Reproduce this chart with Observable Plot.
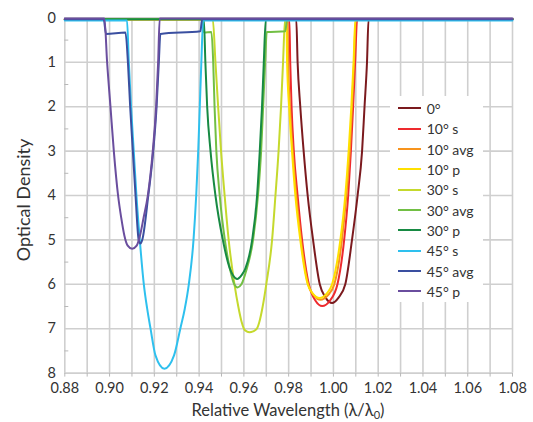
<!DOCTYPE html>
<html><head><meta charset="utf-8">
<script src="https://cdn.jsdelivr.net/npm/d3@7"></script>
<script src="https://cdn.jsdelivr.net/npm/@observablehq/plot@0.6"></script>
<style>
html,body{margin:0;padding:0;background:#fff;}
#wrap{position:relative;width:533px;height:422px;overflow:hidden;font-family:Lato,sans-serif;color:#333;}
#wrap svg{position:absolute;left:0;top:0;}
#legend{position:absolute;left:390px;top:96px;width:93px;height:206px;background:#fff;}
.row{position:absolute;left:0;height:20px;display:flex;align-items:center;font-size:14px;white-space:nowrap;}
.sw{width:22.4px;height:2px;margin-left:8.3px;margin-right:6px;}
#xlabel{position:absolute;left:0;width:576px;top:402px;text-align:center;font-size:16.5px;line-height:16.5px;}
#xlabel sub{font-size:11px;vertical-align:-3px;line-height:0;}
#ylabel{position:absolute;left:22.5px;top:200px;width:200px;margin-left:-100px;height:20px;margin-top:-10px;line-height:20px;text-align:center;font-size:18px;transform:rotate(-90deg);white-space:nowrap;}
</style></head><body><div id="wrap"></div>
<script>
// series names and colours (legend order = draw order)
const seriesNames = ["0°","10° s","10° avg","10° p","30° s","30° avg","30° p","45° s","45° avg","45° p"];
const seriesColors = ["#7b1a1e","#ee2a2e","#f7941d","#ffe000","#c5d92d","#72bf44","#178a43","#2ec0ee","#3a4fa0","#6a4e9e"];

// [relative wavelength, optical density]
const od0 = [[0.88,0.03],[0.9834,0.03],[0.9840,1],[0.9852,2],[0.9867,3],[0.9885,4],[0.9909,5],[0.9939,6],[0.9965,6.3],[0.9994,6.42],[1.0023,6.3],[1.0053,6],[1.0083,5],[1.0108,4],[1.0128,3],[1.0139,2],[1.0150,1],[1.0157,0.03],[1.08,0.03]];
const od10s = [[0.88,0.03],[0.9803,0.03],[0.9807,1],[0.9813,2],[0.9823,3],[0.9840,4],[0.9860,5],[0.9890,6],[0.9920,6.37],[0.9950,6.49],[0.9984,6.37],[1.0018,6],[1.0048,5],[1.0066,4],[1.0078,3],[1.0088,2],[1.0097,1],[1.0106,0.03],[1.08,0.03]];
const od10avg = [[0.88,0.03],[0.9795,0.03],[0.9798,1],[0.9806,2],[0.9818,3],[0.9834,4],[0.9855,5],[0.9887,6],[0.9913,6.25],[0.9942,6.35],[0.9975,6.25],[1.0004,6],[1.0038,5],[1.0058,4],[1.0073,3],[1.0083,2],[1.0092,1],[1.0100,0.03],[1.08,0.03]];
const od10p = [[0.88,0.03],[0.9790,0.03],[0.9793,1],[0.9802,2],[0.9815,3],[0.9830,4],[0.9852,5],[0.9885,6],[0.9908,6.21],[0.9938,6.31],[0.9970,6.21],[0.9994,6],[1.0031,5],[1.0053,4],[1.0068,3],[1.0080,2],[1.0090,1],[1.0098,0.03],[1.08,0.03]];
const od30s = [[0.88,0.03],[0.9461,0.03],[0.9473,1],[0.9485,2],[0.9498,3],[0.9514,4],[0.9532,5],[0.9558,6],[0.9575,6.5],[0.9590,6.85],[0.9600,7],[0.9612,7.06],[0.9626,7.08],[0.9641,7.06],[0.9658,7],[0.9669,6.85],[0.9684,6.5],[0.9700,6],[0.9726,5],[0.9741,4],[0.9755,3],[0.9766,2],[0.9775,1],[0.9784,0.03],[1.08,0.03]];
const od30avg = [[0.88,0.03],[0.9413,0.03],[0.9422,0.33],[0.9455,0.32],[0.9463,1],[0.9469,2],[0.9477,3],[0.9492,4],[0.9515,5],[0.9540,5.7],[0.9557,6],[0.9572,6.07],[0.9589,6],[0.9610,5.7],[0.9641,5],[0.9663,4],[0.9677,3],[0.9686,2],[0.9695,1],[0.9702,0.32],[0.9785,0.30],[0.9793,0.03],[1.08,0.03]];
const od30p = [[0.88,0.03],[0.9421,0.03],[0.9428,1],[0.9436,2],[0.9451,3],[0.9473,4],[0.9506,5],[0.9537,5.64],[0.9552,5.8],[0.9570,5.88],[0.9589,5.8],[0.9607,5.64],[0.9637,5],[0.9659,4],[0.9671,3],[0.9681,2],[0.9689,1],[0.9698,0.03],[1.08,0.03]];
const od45s = [[0.88,0.06],[0.9078,0.06],[0.9086,1],[0.9096,2],[0.9108,3],[0.9120,4],[0.9135,5],[0.9153,6],[0.9168,6.55],[0.9183,7],[0.9205,7.6],[0.9245,7.9],[0.9288,7.6],[0.9316,7],[0.9336,6.55],[0.9354,6],[0.9375,5],[0.9387,4],[0.9396,3],[0.9403,2],[0.9410,1],[0.9418,0.06],[1.08,0.06]];
const od45avg = [[0.88,0.03],[0.8974,0.03],[0.8984,0.36],[0.9071,0.33],[0.9082,1],[0.9092,2],[0.9104,3],[0.9116,4],[0.9130,5],[0.9138,5.08],[0.9146,5],[0.9173,4],[0.9195,3],[0.9210,2],[0.9220,1],[0.9227,0.36],[0.9406,0.30],[0.9413,0.03],[1.08,0.03]];
const od45p = [[0.88,0.015],[0.8977,0.015],[0.8989,1],[0.9004,2],[0.9019,3],[0.9038,4],[0.9052,4.5],[0.9066,4.9],[0.9081,5.13],[0.9101,5.2],[0.9121,5.13],[0.9136,4.9],[0.9152,4.5],[0.9171,4],[0.9193,3],[0.9208,2],[0.9217,1],[0.9224,0.015],[1.08,0.015]];
const seriesData = [od0,od10s,od10avg,od10p,od30s,od30avg,od30p,od45s,od45avg,od45p];

// ticks
const xMinorTicks = [0.88,0.89,0.90,0.91,0.92,0.93,0.94,0.95,0.96,0.97,0.98,0.99,1.00,1.01,1.02,1.03,1.04,1.05,1.06,1.07,1.08];
const xLabelTicks = [0.88,0.90,0.92,0.94,0.96,0.98,1.00,1.02,1.04,1.06,1.08];
const yTicks = [0,1,2,3,4,5,6,7,8];
const yHalfTicks = [0.5,1.5,2.5,3.5,4.5,5.5,6.5,7.5];

const W = 533, H = 422, mL = 64.3, mR = 21, mT = 17.4, mB = 49.4;
const gridStyle = {stroke:"#cfcfcf", strokeOpacity:1, strokeWidth:1.6};

const lines = seriesData.map((pts, i) => Plot.line(pts.map(([w,o]) => ({wl:w, od:o})), {
  x:"wl", y:"od", stroke: seriesColors[i], strokeWidth: 2, curve: "monotone-x"
}));

const chart = Plot.plot({
  width: W, height: H,
  marginLeft: mL, marginRight: mR, marginTop: mT, marginBottom: mB,
  style: {fontFamily: "Lato, sans-serif", fontSize: "14.5px", background: "#fff", overflow: "visible"},
  x: {domain: [0.88, 1.08], axis: null},
  y: {domain: [0, 8], reverse: true, axis: null},
  marks: [
    Plot.gridX(xMinorTicks, gridStyle),
    Plot.gridY(yTicks, gridStyle),
    Plot.axisX(xMinorTicks, {tickSize: 4, tickPadding: 0, stroke: "#b8b8b8", fill: "none", label: null, tickFormat: () => ""}),
    Plot.axisX(xLabelTicks, {tickSize: 0, tickPadding: 10, stroke: "none", fill: "#333", label: null, tickFormat: d => d.toFixed(2)}),
    Plot.axisY(yTicks, {tickSize: 0, tickPadding: 9, stroke: "none", fill: "#333", label: null, tickFormat: d => String(d)}),
    Plot.tickY(yHalfTicks, {y: d => d, stroke: "#b8b8b8", insetRight: W - mL - mR - 4}),
    ...lines
  ]
});

const wrap = document.getElementById("wrap");
wrap.appendChild(chart);

// legend
const legend = document.createElement("div");
legend.id = "legend";
seriesNames.forEach((n, i) => {
  const row = document.createElement("div");
  row.className = "row";
  row.style.top = (2.3 + i * 20.35) + "px";
  const sw = document.createElement("span");
  sw.className = "sw";
  sw.style.background = seriesColors[i];
  const t = document.createElement("span");
  t.textContent = n;
  row.appendChild(sw); row.appendChild(t);
  legend.appendChild(row);
});
wrap.appendChild(legend);

const xl = document.createElement("div");
xl.id = "xlabel";
xl.innerHTML = "Relative Wavelength (λ/λ<sub>0</sub>)";
wrap.appendChild(xl);

const yl = document.createElement("div");
yl.id = "ylabel";
yl.textContent = "Optical Density";
wrap.appendChild(yl);
</script></body></html>
